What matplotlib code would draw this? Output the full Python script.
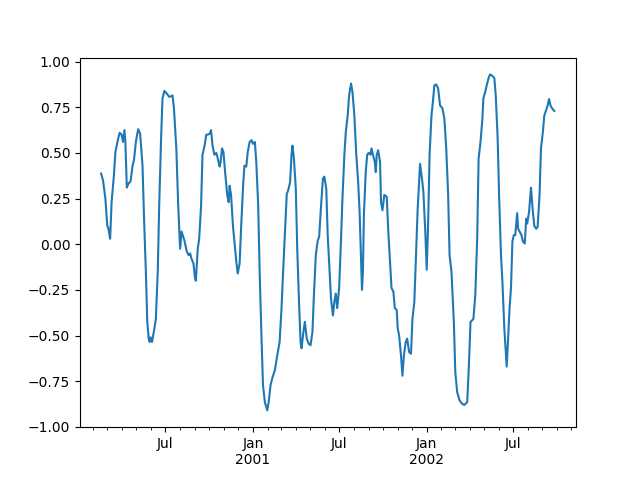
import datetime as dt
import matplotlib
matplotlib.use("Agg")
import matplotlib.pyplot as plt
import matplotlib.dates as mdates
from matplotlib.ticker import FuncFormatter

# days after 2000-01-01, and the rolling correlation
start = dt.datetime(2000, 1, 1)
days = [
    47, 51, 56, 60, 62, 66, 69, 74, 77, 83, 86, 90, 93, 96, 98, 101, 104, 109,
    113, 116, 120, 123, 125, 129, 134, 137, 141, 144, 147, 149, 151, 154, 159,
    162, 166, 169, 173, 176, 180, 185, 190, 194, 197,
    200, 205, 209, 213, 216, 222, 227, 231, 234, 237, 241, 244, 246, 250, 253,
    257, 260, 264, 268, 271, 275, 278, 281, 285, 289, 292, 296, 298, 301, 304,
    308, 312, 315, 317, 320, 324, 327, 331, 334, 338, 341, 345, 348, 352, 355,
    359, 363, 366, 370, 373, 377, 380, 384, 387, 391, 396, 399, 403, 407, 412,
    417, 422, 426, 429, 433, 437, 440, 444, 447, 449, 452, 456, 459, 463, 466,
    468, 472, 475, 479, 483, 487, 491, 494, 498, 502, 505, 509, 513, 516, 520,
    523, 527, 530, 534, 537, 540, 543, 547, 551, 554, 558, 561, 565, 568, 572,
    575, 579, 583, 587, 590, 593, 595, 597,
    599, 603, 606, 609, 613, 615, 619, 622, 624, 626, 629, 633, 635, 638, 642,
    647, 650, 654, 657, 661, 664, 668, 670, 673, 677, 680, 683, 687, 690, 694,
    698, 701, 705, 708, 712, 715, 717, 721, 724, 728, 731, 734, 737, 741, 744,
    747, 751, 755, 759, 764, 768, 772, 776, 779, 783, 788, 791, 795, 800, 805,
    810, 816, 819, 823, 829, 833, 837, 840, 844, 848,
    850, 854, 857, 861, 864, 869, 873, 876, 880, 883, 887, 890, 894, 897, 899,
    902, 905, 908, 911, 914, 917, 921, 923, 926, 930, 933, 937, 940, 942, 946,
    950, 954, 957, 961, 964, 968, 971, 975, 978, 982, 985, 988, 991, 994, 999,
]
corr = [
    0.387, 0.35, 0.25, 0.10, 0.09, 0.03, 0.23, 0.38, 0.505, 0.58, 0.61, 0.60,
    0.56, 0.625, 0.56, 0.31, 0.33, 0.345, 0.43, 0.46, 0.56, 0.605, 0.63, 0.605,
    0.43, 0.16, -0.15, -0.425, -0.517, -0.535, -0.51, -0.535, -0.46, -0.41,
    -0.15, 0.21, 0.58, 0.80, 0.84, 0.825, 0.807, 0.81, 0.815,
    0.745, 0.525, 0.21, -0.025, 0.07, 0.02, -0.04, -0.06, -0.05, -0.08, -0.105,
    -0.18, -0.20, -0.025, 0.03, 0.21, 0.49, 0.535, 0.60, 0.60, 0.605, 0.625,
    0.54, 0.49, 0.50, 0.47, 0.425, 0.45, 0.525, 0.505, 0.38, 0.27, 0.23, 0.32,
    0.27, 0.10, 0.015, -0.095, -0.16, -0.105, 0.085, 0.305, 0.43, 0.425, 0.505,
    0.56, 0.57, 0.55, 0.56, 0.45, 0.21, -0.15, -0.517, -0.77, -0.865, -0.91,
    -0.865, -0.77, -0.73, -0.69, -0.61, -0.535, -0.35, -0.17, 0.05, 0.275,
    0.295, 0.34, 0.49, 0.54, 0.47, 0.305, -0.025, -0.335, -0.535, -0.57, -0.48,
    -0.425, -0.517, -0.545, -0.553, -0.48, -0.28, -0.06, 0.02, 0.04, 0.21, 0.36,
    0.37, 0.305, 0.05, -0.15, -0.30, -0.39, -0.315, -0.27, -0.35, -0.24, 0.03,
    0.25, 0.49, 0.615, 0.705, 0.815, 0.88, 0.835, 0.705, 0.49, 0.34, 0.177,
    -0.08, -0.25, -0.15,
    0.16, 0.40, 0.49, 0.50, 0.49, 0.525, 0.48, 0.45, 0.395, 0.49, 0.515, 0.45,
    0.23, 0.186, 0.27, 0.26, 0.085, -0.095, -0.24, -0.26, -0.35, -0.36, -0.46,
    -0.50, -0.61, -0.72, -0.61, -0.535, -0.517, -0.59, -0.60, -0.41, -0.315,
    -0.095, 0.195, 0.34, 0.44, 0.36, 0.285, 0.07, -0.14, 0.12, 0.49, 0.705,
    0.78, 0.87, 0.875, 0.853, 0.76, 0.745, 0.69, 0.525, 0.27, -0.06, -0.15,
    -0.425, -0.70, -0.81, -0.855, -0.873, -0.88, -0.865, -0.70, -0.425, -0.41,
    -0.28, 0.03, 0.47, 0.56, 0.69,
    0.80, 0.835, 0.87, 0.91, 0.93, 0.922, 0.91, 0.815, 0.58, 0.27, -0.06,
    -0.205, -0.46, -0.59, -0.67, -0.517, -0.35, -0.24, 0.015, 0.05, 0.05, 0.17,
    0.085, 0.07, 0.05, 0.015, 0.004, 0.14, 0.113, 0.177, 0.31, 0.177, 0.10,
    0.085, 0.095, 0.27, 0.525, 0.615, 0.705, 0.735, 0.76, 0.795, 0.76, 0.745,
    0.73,
]
dates = [start + dt.timedelta(days=d) for d in days]

fig, ax = plt.subplots(figsize=(6.4, 4.8), dpi=100)
ax.plot(dates, corr, color="#1f77b4")

ax.set_xlim(dt.datetime(2000, 1, 3, 16), dt.datetime(2002, 11, 10, 14))

ax.xaxis.set_major_locator(mdates.MonthLocator(bymonth=[1, 7]))
ax.xaxis.set_minor_locator(mdates.MonthLocator())


def month_label(x, pos):
    d = mdates.num2date(x)
    if d.month == 1:
        return "Jan\n%d" % d.year
    return d.strftime("%b")


ax.xaxis.set_major_formatter(FuncFormatter(month_label))
for lbl in ax.get_xticklabels():
    lbl.set_ha("center")

fig.savefig("out.png", dpi=100)
